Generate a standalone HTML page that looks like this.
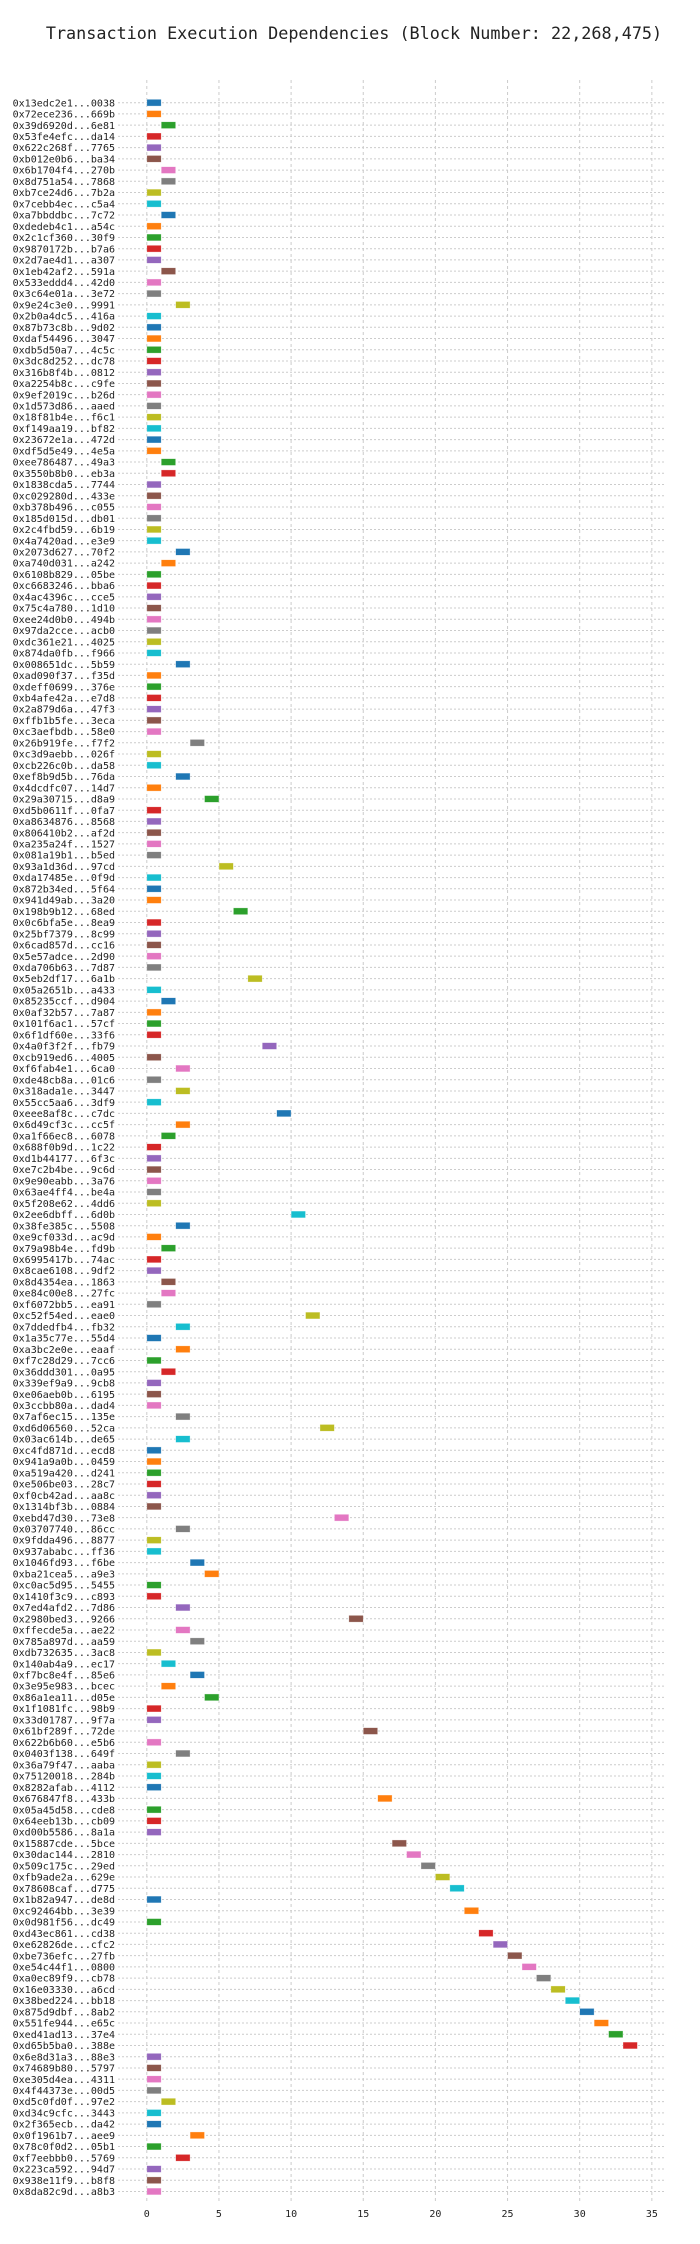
<!DOCTYPE html>
<html><head><meta charset="utf-8"><style>
html,body{margin:0;padding:0;background:#fff}
svg{display:block}
text{font-family:"DejaVu Sans Mono","Liberation Mono",monospace;fill:#222}
</style></head><body>
<svg id="chart" width="700" height="2244" viewBox="0 0 700 2244" xmlns="http://www.w3.org/2000/svg">
<text x="354" y="39" text-anchor="middle" font-size="16.8">Transaction Execution Dependencies (Block Number: 22,268,475)</text>
<g id="grid"></g>
<g id="bars"></g>
<g id="ylabels"></g>
<g id="xticks"></g>
</svg>
<script>
const txLabels = ["0x13edc2e1...0038","0x72ece236...669b","0x39d6920d...6e81","0x53fe4efc...da14","0x622c268f...7765","0xb012e0b6...ba34","0x6b1704f4...270b","0x8d751a54...7868","0xb7ce24d6...7b2a","0x7cebb4ec...c5a4","0xa7bbddbc...7c72","0xdedeb4c1...a54c","0x2c1cf360...30f9","0x9870172b...b7a6","0x2d7ae4d1...a307","0x1eb42af2...591a","0x533eddd4...42d0","0x3c64e01a...3e72","0x9e24c3e0...9991","0x2b0a4dc5...416a","0x87b73c8b...9d02","0xdaf54496...3047","0xdb5d50a7...4c5c","0x3dc8d252...dc78","0x316b8f4b...0812","0xa2254b8c...c9fe","0x9ef2019c...b26d","0x1d573d86...aaed","0x18f81b4e...f6c1","0xf149aa19...bf82","0x23672e1a...472d","0xdf5d5e49...4e5a","0xee786487...49a3","0x3550b8b0...eb3a","0x1838cda5...7744","0xc029280d...433e","0xb378b496...c055","0x185d015d...db01","0x2c4fbd59...6b19","0x4a7420ad...e3e9","0x2073d627...70f2","0xa740d031...a242","0x6108b829...05be","0xc6683246...bba6","0x4ac4396c...cce5","0x75c4a780...1d10","0xee24d0b0...494b","0x97da2cce...acb0","0xdc361e21...4025","0x874da0fb...f966","0x008651dc...5b59","0xad090f37...f35d","0xdeff0699...376e","0xb4afe42a...e7d8","0x2a879d6a...47f3","0xffb1b5fe...3eca","0xc3aefbdb...58e0","0x26b919fe...f7f2","0xc3d9aebb...026f","0xcb226c0b...da58","0xef8b9d5b...76da","0x4dcdfc07...14d7","0x29a30715...d8a9","0xd5b0611f...0fa7","0xa8634876...8568","0x806410b2...af2d","0xa235a24f...1527","0x081a19b1...b5ed","0x93a1d36d...97cd","0xda17485e...0f9d","0x872b34ed...5f64","0x941d49ab...3a20","0x198b9b12...68ed","0x0c6bfa5e...8ea9","0x25bf7379...8c99","0x6cad857d...cc16","0x5e57adce...2d90","0xda706b63...7d87","0x5eb2df17...6a1b","0x05a2651b...a433","0x85235ccf...d904","0x0af32b57...7a87","0x101f6ac1...57cf","0x6f1df60e...33f6","0x4a0f3f2f...fb79","0xcb919ed6...4005","0xf6fab4e1...6ca0","0xde48cb8a...01c6","0x318ada1e...3447","0x55cc5aa6...3df9","0xeee8af8c...c7dc","0x6d49cf3c...cc5f","0xa1f66ec8...6078","0x688f0b9d...1c22","0xd1b44177...6f3c","0xe7c2b4be...9c6d","0x9e90eabb...3a76","0x63ae4ff4...be4a","0x5f208e62...4dd6","0x2ee6dbff...6d0b","0x38fe385c...5508","0xe9cf033d...ac9d","0x79a98b4e...fd9b","0x6995417b...74ac","0x8cae6108...9df2","0x8d4354ea...1863","0xe84c00e8...27fc","0xf6072bb5...ea91","0xc52f54ed...eae0","0x7ddedfb4...fb32","0x1a35c77e...55d4","0xa3bc2e0e...eaaf","0xf7c28d29...7cc6","0x36ddd301...0a95","0x339ef9a9...9cb8","0xe06aeb0b...6195","0x3ccbb80a...dad4","0x7af6ec15...135e","0xd6d06560...52ca","0x03ac614b...de65","0xc4fd871d...ecd8","0x941a9a0b...0459","0xa519a420...d241","0xe506be03...28c7","0xf0cb42ad...aa8c","0x1314bf3b...0884","0xebd47d30...73e8","0x03707740...86cc","0x9fdda496...8877","0x937ababc...ff36","0x1046fd93...f6be","0xba21cea5...a9e3","0xc0ac5d95...5455","0x1410f3c9...c893","0x7ed4afd2...7d86","0x2980bed3...9266","0xffecde5a...ae22","0x785a897d...aa59","0xdb732635...3ac8","0x140ab4a9...ec17","0xf7bc8e4f...85e6","0x3e95e983...bcec","0x86a1ea11...d05e","0x1f1081fc...98b9","0x33d01787...9f7a","0x61bf289f...72de","0x622b6b60...e5b6","0x0403f138...649f","0x36a79f47...aaba","0x75120018...284b","0x8282afab...4112","0x676847f8...433b","0x05a45d58...cde8","0x64eeb13b...cb09","0xd00b5586...8a1a","0x15887cde...5bce","0x30dac144...2810","0x509c175c...29ed","0xfb9ade2a...629e","0x78608caf...d775","0x1b82a947...de8d","0xc92464bb...3e39","0x0d981f56...dc49","0xd43ec861...cd38","0xe62826de...cfc2","0xbe736efc...27fb","0xe54c44f1...0800","0xa0ec89f9...cb78","0x16e03330...a6cd","0x38bed224...bb18","0x875d9dbf...8ab2","0x551fe944...e65c","0xed41ad13...37e4","0xd65b5ba0...388e","0x6e8d31a3...88e3","0x74689b80...5797","0xe305d4ea...4311","0x4f44373e...00d5","0xd5c0fd0f...97e2","0xd34c9cfc...3443","0x2f365ecb...da42","0x0f1961b7...aee9","0x78c0f0d2...05b1","0xf7eebbb0...5769","0x223ca592...94d7","0x938e11f9...b8f8","0x8da82c9d...a8b3"];
const startTimes = [0,0,1,0,0,0,1,1,0,0,1,0,0,0,0,1,0,0,2,0,0,0,0,0,0,0,0,0,0,0,0,0,1,1,0,0,0,0,0,0,2,1,0,0,0,0,0,0,0,0,2,0,0,0,0,0,0,3,0,0,2,0,4,0,0,0,0,0,5,0,0,0,6,0,0,0,0,0,7,0,1,0,0,0,8,0,2,0,2,0,9,2,1,0,0,0,0,0,0,10,2,0,1,0,0,1,1,0,11,2,0,2,0,1,0,0,0,2,12,2,0,0,0,0,0,0,13,2,0,0,3,4,0,0,2,14,2,3,0,1,3,1,4,0,0,15,0,2,0,0,0,16,0,0,0,17,18,19,20,21,0,22,0,23,24,25,26,27,28,29,30,31,32,33,0,0,0,0,1,0,0,3,0,2,0,0,0];
const durations = new Array(187).fill(1);
const xTicks = [0,5,10,15,20,25,30,35];
const palette = ["#1f77b4","#ff7f0e","#2ca02c","#d62728","#9467bd","#8c564b","#e377c2","#7f7f7f","#bcbd22","#17becf"];

const NS = "http://www.w3.org/2000/svg";
const X0 = 146.8, UNIT = 14.43, Y0 = 102.7, ROW = 11.23;
const xs = v => X0 + v * UNIT;
const ys = i => Y0 + i * ROW;
function mk(tag, attrs, parent){const e=document.createElementNS(NS,tag);for(const k in attrs)e.setAttribute(k,attrs[k]);parent.appendChild(e);return e;}
const grid = document.getElementById('grid'), bars = document.getElementById('bars'), yl = document.getElementById('ylabels'), xt = document.getElementById('xticks');
const plotTop = 80, plotBot = 2202;
xTicks.forEach(t => {
  const l = mk('line',{x1:xs(t),x2:xs(t),y1:plotTop,y2:plotBot,stroke:'#cccccc','stroke-width':1,'stroke-dasharray':'3,3'},grid);
  
  
  const tx = mk('text',{x:xs(t),y:2217,'text-anchor':'middle','font-size':10},xt);
  tx.textContent = t;
  
  
});
txLabels.forEach((lab,i) => {
  const y = ys(i);
  const l = mk('line',{x1:118,x2:666,y1:y,y2:y,stroke:'#cccccc','stroke-width':1,'stroke-dasharray':'2,2'},grid);
  
  
  const t = mk('text',{x:115,y:y+3.6,'text-anchor':'end','font-size':10},yl);
  t.textContent = lab;
  
  
  const r = mk('rect',{x:xs(startTimes[i]),y:y-3.4,width:durations[i]*UNIT,height:6.8,fill:palette[i%10],stroke:'#ffffff','stroke-opacity':0.6,'stroke-width':0.6},bars);
  
  
});
</script>
</body></html>
